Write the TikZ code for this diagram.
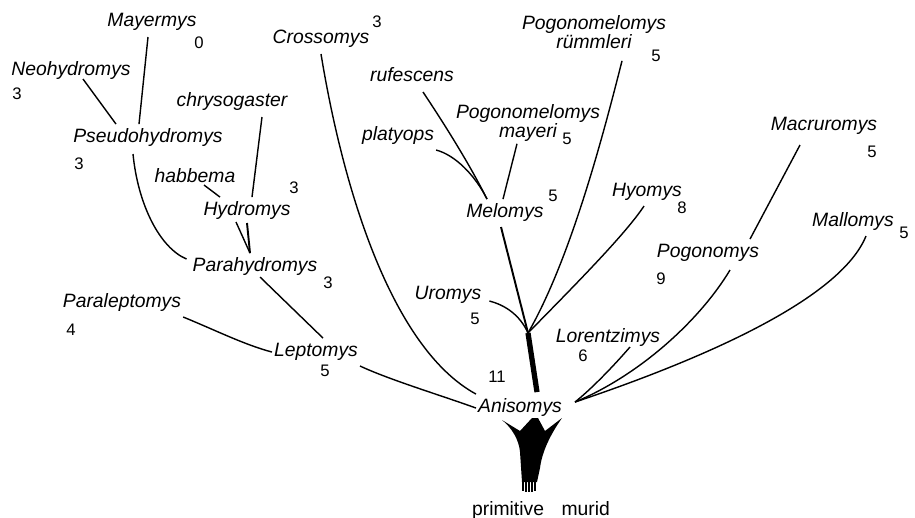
\documentclass[tikz,border=0pt]{standalone}
\usepackage{fontspec}
\setmainfont{Liberation Sans}

\begin{document}
\begin{tikzpicture}[x=0.02cm,y=-0.02cm]
  \tikzstyle{taxon}=[font=\fontsize{11}{11}\selectfont\itshape,inner sep=1pt,
    text height=9pt,text depth=4.5pt,anchor=base]
  \tikzstyle{taxa}=[font=\fontsize{11}{11}\selectfont\itshape,inner sep=1pt,
    align=center]
  \tikzstyle{count}=[font=\fontsize{9.5}{10}\selectfont,inner sep=1pt]
  \tikzstyle{branch}=[line width=0.8pt]
  \tikzstyle{stem}=[line width=1.1pt]
  \tikzstyle{trunk}=[line width=3pt]
  \useasboundingbox (0,0) rectangle (915,517);

  % water rats, left
  \node[taxon] (Mayermys) at (152,27) {Mayermys};
  \node[count] (nMayermys) at (199,43) {0};
  \node[taxon] (Neohydromys) at (71,75) {Neohydromys};
  \node[count] (nNeohydromys) at (17,94) {3};
  \node[taxon] (chrysogaster) at (232,107) {chrysogaster};
  \node[taxon] (Pseudohydromys) at (148,142) {Pseudohydromys};
  \node[count] (nPseudohydromys) at (79,164) {3};
  \node[taxon] (habbema) at (195,182) {habbema};
  \node[taxon] (Hydromys) at (247,215) {Hydromys};
  \node[count] (nHydromys) at (294,188) {3};
  \node[taxon] (Parahydromys) at (255,271) {Parahydromys};
  \node[count] (nParahydromys) at (328,283) {3};
  \node[taxon] (Paraleptomys) at (122,307) {Paraleptomys};
  \node[count] (nParaleptomys) at (71,330) {4};
  \node[taxon] (Leptomys) at (316,356) {Leptomys};
  \node[count] (nLeptomys) at (325,371) {5};

  % middle
  \node[taxon] (Crossomys) at (321,44) {Crossomys};
  \node[count] (nCrossomys) at (377,22) {3};
  \node[taxon] (rufescens) at (412,82) {rufescens};
  \node[taxon] (platyops) at (398,140) {platyops};
  \node[taxa] (mayeri) at (528,123) {Pogonomelomys\\mayeri};
  \node[count] (nmayeri) at (567,139) {5};
  \node[taxon] (Melomys) at (505,217) {Melomys};
  \node[count] (nMelomys) at (553,196) {5};
  \node[taxa] (ruemmleri) at (594,32) {Pogonomelomys\\rümmleri};
  \node[count] (nruemmleri) at (656,56) {5};
  \node[taxon] (Uromys) at (448,299) {Uromys};
  \node[count] (nUromys) at (475,319) {5};
  \node[count] (nAnisomys) at (497,377) {11};
  \node[taxon] (Anisomys) at (520,412) {Anisomys};
  \node[font=\fontsize{11}{12}\selectfont,anchor=base] (murid) at (541,515)
    {primitive\hspace{10pt}murid};

  % right
  \node[taxon] (Hyomys) at (647,196) {Hyomys};
  \node[count] (nHyomys) at (682,208) {8};
  \node[taxon] (Macruromys) at (824,131) {Macruromys};
  \node[count] (nMacruromys) at (872,152) {5};
  \node[taxon] (Mallomys) at (853,226) {Mallomys};
  \node[count] (nMallomys) at (904,233) {5};
  \node[taxon] (Pogonomys) at (708,257) {Pogonomys};
  \node[count] (nPogonomys) at (661,279) {9};
  \node[taxon] (Lorentzimys) at (608,342) {Lorentzimys};
  \node[count] (nLorentzimys) at (583,356) {6};

  \coordinate (fork) at (528,333);
  \coordinate (rj) at ([shift={(11,-6)}]Anisomys.east);

  % branches
  \draw[branch] ([shift={(-4,0)}]Mayermys.south) -- ([shift={(-9,0)}]Pseudohydromys.north);
  \draw[branch] ([shift={(12,-6)}]Neohydromys.south) -- ([shift={(-32,0)}]Pseudohydromys.north);
  \draw[branch] ([shift={(-15,2)}]Pseudohydromys.south) .. controls (138,205) and (160,248)
    .. ([shift={(-4,-8)}]Parahydromys.west);
  \draw[branch] ([shift={(30,0)}]chrysogaster.south) -- ([shift={(5,0)}]Hydromys.north);
  \draw[branch] ([shift={(9,-7)}]habbema.south) -- ([shift={(-27,0)}]Hydromys.north);
  \draw[branch] ([shift={(-11,-3)}]Hydromys.south) -- ([shift={(-5,0)}]Parahydromys.north);
  \draw[stem] ([shift={(0,-2)}]Hydromys.south) -- ([shift={(-5,0)}]Parahydromys.north);
  \draw[branch] ([shift={(5,-4)}]Parahydromys.south) -- ([shift={(7,0)}]Leptomys.north);
  \draw[branch] (Paraleptomys.south east) .. controls (215,330) and (245,345) .. (Leptomys.west);
  \draw[branch] (Leptomys.south east) .. controls (390,380) and (440,395) .. (Anisomys.west);
  \draw[branch] (Crossomys.south) .. controls (345,200) and (395,350) .. (Anisomys.north west);

  \draw[branch] ([shift={(11,0)}]rufescens.south) .. controls (445,125) and (470,165)
    .. ([shift={(-18,0)}]Melomys.north);
  \draw[branch] (platyops.south east) .. controls (455,155) and (475,175)
    .. ([shift={(-18,0)}]Melomys.north);
  \draw[branch] ([shift={(-11,0)}]mayeri.south) -- ([shift={(-2,0)}]Melomys.north);
  \draw[stem] ([shift={(-4,0)}]Melomys.south) -- (fork);
  \draw[branch] ([shift={(6,6)}]Uromys.east) .. controls (505,305) and (520,315) .. (fork);
  \draw[branch] ([shift={(28,10)}]ruemmleri.south) .. controls (602,140) and (570,260) .. (fork);
  \draw[branch] ([shift={(-3,0)}]Hyomys.south) .. controls (625,235) and (570,290) .. (fork);
  \draw[trunk] (fork) -- ([shift={(17,-2)}]Anisomys.north);

  \draw[branch] ([shift={(-24,4)}]Macruromys.south) -- ([shift={(42,0)}]Pogonomys.north);
  \draw[branch] ([shift={(22,3)}]Pogonomys.south) .. controls (700,320) and (640,375) .. (rj);
  \draw[branch] ([shift={(13,0)}]Mallomys.south) .. controls (840,300) and (700,360) .. (rj);
  \draw[branch] ([shift={(22,-5)}]Lorentzimys.south) .. controls (610,370) and (590,390) .. (rj);

  % root
  \fill (502,420) .. controls (512,428) and (519,440) .. (520,452) -- (522,482) -- (537,482)
    -- (540,468) .. controls (542,452) and (550,435) .. (562,418) -- (545,431) -- (538,418)
    -- (532,418) -- (520,431) -- cycle;
  \draw[line width=0.7pt] (523,478) -- (523,491) (526,478) -- (526,492) (529,478) -- (529,492)
    (532,478) -- (532,492) (535,478) -- (535,491);
\end{tikzpicture}
\end{document}
